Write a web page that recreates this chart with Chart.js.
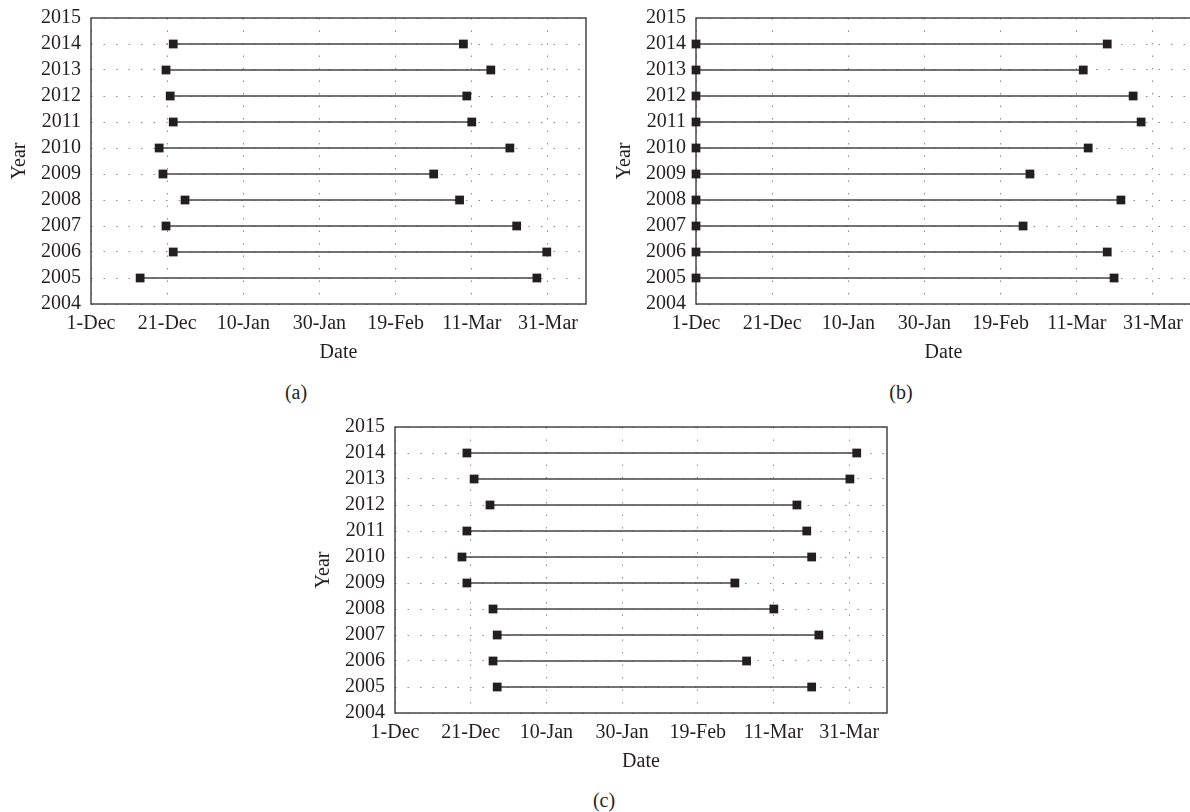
<!DOCTYPE html>
<html>
<head>
<meta charset="utf-8">
<script src="https://cdn.jsdelivr.net/npm/chart.js@4.4.1/dist/chart.umd.min.js"></script>
<style>
  html, body { margin: 0; padding: 0; background: #ffffff; overflow: hidden; width: 1190px; height: 812px; }
  .panel { position: absolute; width: 600px; height: 370px; }
  .sub { position: absolute; font-family: 'Liberation Serif', serif; font-size: 20px; color: #231f20; transform: translate(-50%, -50%); }
</style>
</head>
<body>
<div class="panel" id="pa" style="left:0px; top:0px;"><canvas id="ca"></canvas></div>
<div class="panel" id="pb" style="left:605px; top:0px;"><canvas id="cb"></canvas></div>
<div class="panel" id="pc" style="left:304px; top:409px; width:597px;"><canvas id="cc"></canvas></div>
<div class="sub" style="left:296px; top:392px;">(a)</div>
<div class="sub" style="left:901px; top:392px;">(b)</div>
<div class="sub" style="left:604px; top:800px;">(c)</div>
<script>
// ---- data (x values = days after 1 December) ----
const years = [2005, 2006, 2007, 2008, 2009, 2010, 2011, 2012, 2013, 2014];
const dateTickLabels = ['1-Dec', '21-Dec', '10-Jan', '30-Jan', '19-Feb', '11-Mar', '31-Mar'];

const startA = [12.9, 21.6, 19.7, 24.7, 18.9, 17.9, 21.6, 20.8, 19.7, 21.6];
const endA   = [117.1, 119.7, 111.8, 96.8, 90.0, 110.0, 100.0, 98.7, 105.0, 97.8];

const startB = [0, 0, 0, 0, 0, 0, 0, 0, 0, 0];
const endB   = [109.8, 108.0, 85.9, 111.6, 87.7, 103.0, 116.9, 114.8, 101.7, 108.0];

const startC = [27.0, 25.9, 27.0, 25.9, 19.0, 17.7, 19.0, 25.1, 20.9, 19.0];
const endC   = [110.1, 92.9, 112.0, 100.1, 89.8, 110.1, 108.8, 106.2, 120.2, 122.0];

const xMin = 0, xMax = 130, xStep = 20;
const yMin = 2004, yMax = 2015;

// ---- styling ----
const TEXT = '#231f20';
const FONT = { family: "'Liberation Serif', 'Times New Roman', serif", size: 20 };
const DOTS = [1.5, 11];

const boxPlugin = {
  id: 'box',
  beforeDatasetsDraw(chart) {
    const a = chart.chartArea;
    const ctx = chart.ctx;
    ctx.save();
    ctx.strokeStyle = '#3a3a3a';
    ctx.lineWidth = 1.4;
    ctx.strokeRect(a.left, a.top, a.right - a.left, a.bottom - a.top);
    ctx.restore();
  }
};

function makeChart(id, starts, ends) {
  const datasets = years.map((yr, i) => ({
    data: [{ x: starts[i], y: yr }, { x: ends[i], y: yr }],
    borderColor: '#454545',
    borderWidth: 1.7,
    pointStyle: 'rect',
    pointRadius: 6.2,
    pointBackgroundColor: '#231f20',
    pointBorderColor: '#231f20',
    pointBorderWidth: 0,
    clip: false,
    tension: 0
  }));
  return new Chart(document.getElementById(id), {
    type: 'line',
    data: { datasets },
    plugins: [boxPlugin],
    options: {
      responsive: true,
      maintainAspectRatio: false,
      animation: false,
      events: [],
      layout: { padding: { top: 18, right: 14, left: 0, bottom: 0 } },
      plugins: { legend: { display: false }, tooltip: { enabled: false } },
      scales: {
        x: {
          type: 'linear',
          min: xMin, max: xMax,
          afterBuildTicks(scale) {
            scale.ticks = dateTickLabels.map((_, i) => ({ value: i * xStep }));
          },
          afterFit(scale) { scale.height = 66; },
          ticks: {
            stepSize: xStep,
            color: TEXT, font: FONT, padding: 8, maxRotation: 0, autoSkip: false,
            callback: (v) => dateTickLabels[Math.round(v / xStep)]
          },
          grid: { color: '#8a8a8a', lineWidth: 1, drawTicks: false },
          border: { display: false, dash: DOTS },
          title: { display: true, text: 'Date', color: TEXT, font: FONT, padding: { top: 0, bottom: 5 } }
        },
        y: {
          type: 'linear',
          min: yMin, max: yMax,
          afterFit(scale) { scale.width = 91; },
          ticks: {
            stepSize: 1, color: TEXT, font: FONT, padding: 0, autoSkip: false,
            callback: (v) => String(v)
          },
          grid: { color: '#8a8a8a', lineWidth: 1, drawTicks: true, tickLength: 10, tickColor: 'rgba(0,0,0,0)' },
          border: { display: false, dash: DOTS },
          title: { display: true, text: 'Year', color: TEXT, font: FONT, padding: { top: 7.5, bottom: 0 } }
        }
      }
    }
  });
}

makeChart('ca', startA, endA);
makeChart('cb', startB, endB);
makeChart('cc', startC, endC);
</script>
</body>
</html>
